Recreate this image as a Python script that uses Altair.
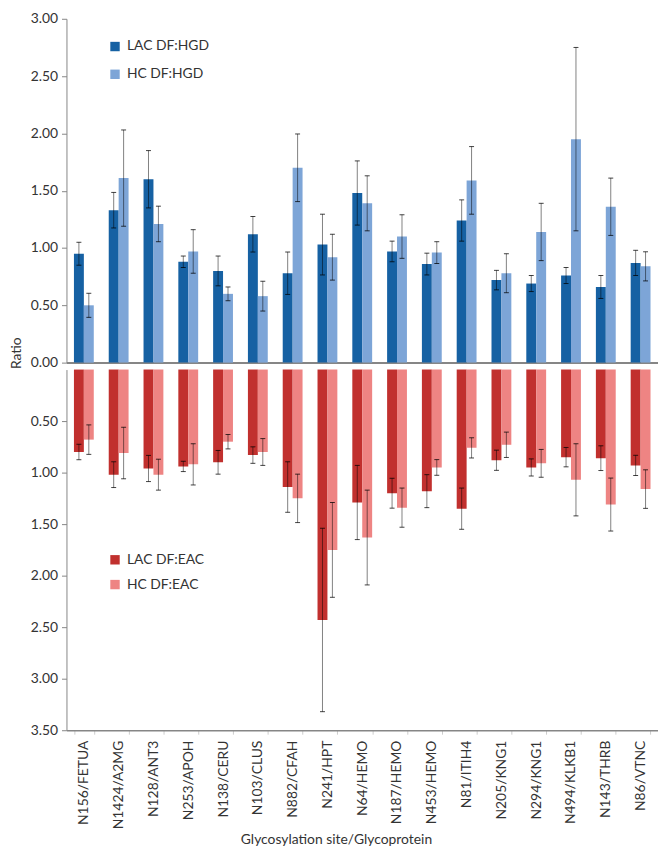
import altair as alt
import pandas as pd

sites = ["N156/FETUA", "N1424/A2MG", "N128/ANT3", "N253/APOH", "N138/CERU", "N103/CLUS",
         "N882/CFAH", "N241/HPT", "N64/HEMO", "N187/HEMO", "N453/HEMO", "N81/ITIH4",
         "N205/KNG1", "N294/KNG1", "N494/KLKB1", "N143/THRB", "N86/VTNC"]

top_series = ["LAC DF:HGD", "HC DF:HGD"]
bot_series = ["LAC DF:EAC", "HC DF:EAC"]

lac_hgd = [0.95, 1.33, 1.60, 0.88, 0.80, 1.12, 0.78, 1.03, 1.48, 0.97, 0.86, 1.24, 0.72, 0.69, 0.76, 0.66, 0.87]
lac_hgd_err = [0.10, 0.155, 0.25, 0.05, 0.13, 0.155, 0.185, 0.265, 0.28, 0.09, 0.095, 0.18, 0.085, 0.07, 0.07, 0.10, 0.11]
hc_hgd = [0.50, 1.61, 1.21, 0.97, 0.60, 0.58, 1.70, 0.92, 1.39, 1.10, 0.96, 1.59, 0.78, 1.14, 1.95, 1.36, 0.84]
hc_hgd_err = [0.105, 0.42, 0.155, 0.19, 0.06, 0.13, 0.295, 0.20, 0.24, 0.19, 0.095, 0.295, 0.17, 0.25, 0.80, 0.25, 0.127]

lac_eac = [0.80, 1.02, 0.96, 0.94, 0.90, 0.83, 1.14, 2.43, 1.29, 1.20, 1.18, 1.35, 0.88, 0.95, 0.85, 0.86, 0.93]
lac_eac_err = [0.075, 0.125, 0.127, 0.05, 0.115, 0.08, 0.245, 0.89, 0.36, 0.145, 0.16, 0.20, 0.098, 0.083, 0.094, 0.12, 0.098]
hc_eac = [0.68, 0.81, 1.02, 0.92, 0.70, 0.80, 1.25, 1.75, 1.63, 1.34, 0.95, 0.76, 0.73, 0.91, 1.07, 1.31, 1.16]
hc_eac_err = [0.143, 0.25, 0.15, 0.20, 0.07, 0.13, 0.235, 0.46, 0.46, 0.19, 0.076, 0.098, 0.123, 0.135, 0.35, 0.257, 0.187]

top_colors = ["#1661A3", "#7DA5D7"]
bot_colors = ["#C1302E", "#EE8483"]
FONT = "Lato"
GRAY = "#868686"


def make_df(series_names, vals, errs):
    rows = []
    for name, v, e in zip(series_names, vals, errs):
        for s, vv, ee in zip(sites, v, e):
            rows.append({"site": s, "series": name, "value": vv, "lo": vv - ee, "hi": vv + ee})
    return pd.DataFrame(rows)


df_top = make_df(top_series, [lac_hgd, hc_hgd], [lac_hgd_err, hc_hgd_err])
df_bot = make_df(bot_series, [lac_eac, hc_eac], [lac_eac_err, hc_eac_err])

xscale = alt.Scale(paddingInner=0.43, paddingOuter=0.215)


def panel(df, series, colors, yscale, yaxis, xaxis, legend, height):
    base = alt.Chart(df)
    x = alt.X("site:N", sort=sites, scale=xscale, axis=xaxis)
    xo = alt.XOffset("series:N", sort=series, scale=alt.Scale(paddingInner=0))
    bars = base.mark_bar().encode(
        x=x, xOffset=xo,
        y=alt.Y("value:Q", scale=yscale, axis=yaxis),
        color=alt.Color("series:N", sort=series,
                        scale=alt.Scale(domain=series, range=colors), legend=legend),
    )
    rule = base.mark_rule(color="black", opacity=0.5, strokeWidth=1).encode(
        x=x, xOffset=xo, y="lo:Q", y2="hi:Q")
    cap_lo = base.mark_tick(color="black", opacity=0.75, size=5, thickness=1).encode(
        x=x, xOffset=xo, y="lo:Q")
    cap_hi = base.mark_tick(color="black", opacity=0.75, size=5, thickness=1).encode(
        x=x, xOffset=xo, y="hi:Q")
    return alt.layer(bars, rule, cap_lo, cap_hi).properties(width=597, height=height)


top = panel(
    df_top, top_series, top_colors,
    alt.Scale(domain=[0, 3], nice=False),
    alt.Axis(values=[0, 0.5, 1, 1.5, 2, 2.5, 3], format=".2f", grid=False,
             title="Ratio", titleX=-43, titleY=337, titleFontWeight="normal",
             titleFontSize=14, titleColor="#333333"),
    alt.Axis(labels=False, ticks=False, title=None, domainWidth=2),
    alt.Legend(title=None, orient="none", legendX=42, legendY=21, symbolType="square",
               symbolSize=90, rowPadding=14, labelOffset=5, padding=0,
               labelFontSize=14, labelColor="#333333", labelFont=FONT,
               symbolStrokeWidth=0),
    347,
)

bot = panel(
    df_bot, bot_series, bot_colors,
    alt.Scale(domain=[0, 3.5], reverse=True, nice=False),
    alt.Axis(values=[0.5, 1, 1.5, 2, 2.5, 3, 3.5], format=".2f", grid=False, title=None),
    alt.Axis(title="Glycosylation site/Glycoprotein", labelAngle=-90, labelFontSize=14,
             labelPadding=6, tickBand="extent", tickColor="#cccccc", tickSize=4,
             titleFontWeight="normal", titleFontSize=14, titlePadding=4, titleColor="#333333",
             titleX=272, domainWidth=1.5),
    alt.Legend(title=None, orient="none", legendX=42, legendY=185, symbolType="square",
               symbolSize=90, rowPadding=11, labelOffset=5, padding=0,
               labelFontSize=14, labelColor="#333333", labelFont=FONT,
               symbolStrokeWidth=0),
    364,
)

chart = alt.vconcat(top, bot, spacing=0).resolve_scale(
    color="independent", y="independent", x="independent", xOffset="independent"
).resolve_legend(color="independent").properties(
    padding={"left": 2, "top": 0, "right": 0, "bottom": 0}
).configure_view(stroke=None).configure_axis(
    labelFont=FONT, titleFont=FONT, labelFontSize=14, labelColor="#333333",
    domainColor=GRAY, tickColor=GRAY, tickSize=5, labelPadding=4
).configure_legend(labelFont=FONT)

chart.save("out.html", embed_options={"renderer": "svg", "actions": False})
